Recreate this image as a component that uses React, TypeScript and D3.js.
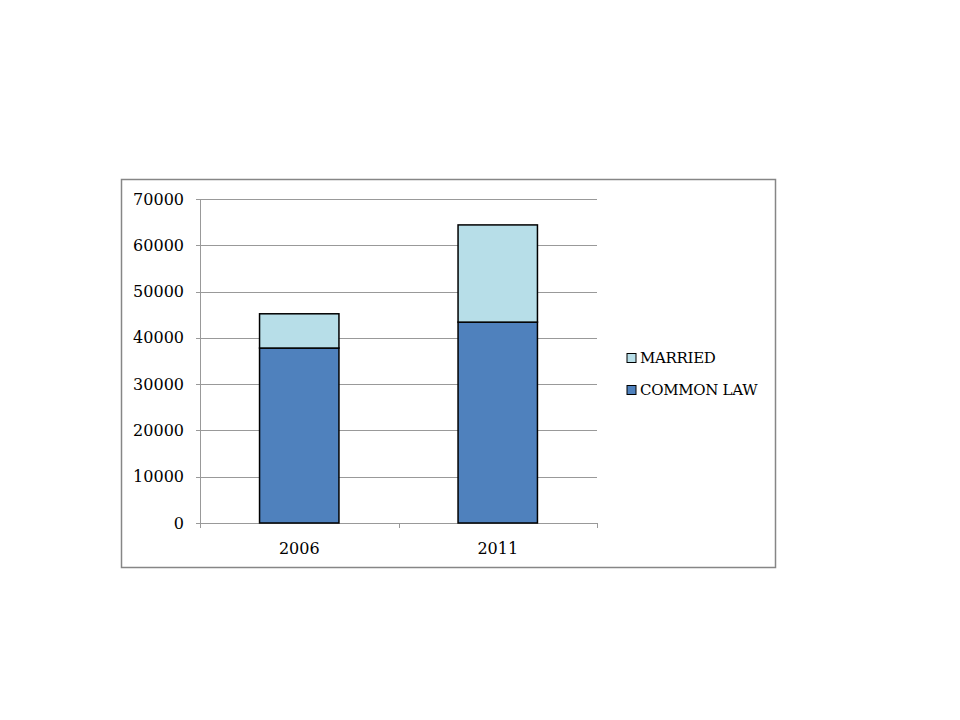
import React from "react";
import * as d3 from "d3";

const categories = ["2006", "2011"];
const commonLaw = [37800, 43400];
const married = [7400, 21000];
const seriesNames = ["COMMON LAW", "MARRIED"];
const seriesColors = ["#4F81BD", "#B7DEE8"];
const yTicks = [0, 10000, 20000, 30000, 40000, 50000, 60000, 70000];

export default function App() {
  const W = 960, H = 720;
  const left = 200, right = 597, top = 199, bottom = 523;
  const xBand = d3.scaleBand<string>().domain(categories).range([left, right]);
  const barW = xBand.bandwidth() * 0.4;
  const y = d3.scaleLinear().domain([0, 70000]).range([bottom, top]);
  const rows = categories.map((c, i) => ({ cat: c, "COMMON LAW": commonLaw[i], MARRIED: married[i] }));
  const stacked = d3.stack<any>().keys(seriesNames)(rows);
  const font = "'DejaVu Serif', serif";
  const legendItems = [
    { name: "MARRIED", color: seriesColors[1] },
    { name: "COMMON LAW", color: seriesColors[0] },
  ];
  return (
    <svg width={W} height={H} style={{ position: "absolute", left: 0, top: 0, background: "#fff" }}>
      <rect x={121.5} y={179.5} width={654} height={388} fill="#fff" stroke="#868686" strokeWidth={1.5} />
      {yTicks.map((t) => (
        <g key={t}>
          <line x1={left - 4} x2={right} y1={Math.round(y(t)) + 0.5} y2={Math.round(y(t)) + 0.5} stroke="#999" strokeWidth={1} />
          <text x={184} y={y(t)} dy="0.35em" textAnchor="end" fontFamily={font} fontSize={16} fill="#000">{t}</text>
        </g>
      ))}
      <line x1={left + 0.5} x2={left + 0.5} y1={top} y2={bottom} stroke="#999" />
      {[...categories.map((c) => xBand(c)!), right].map((v, i) => (
        <line key={i} x1={Math.round(v) + 0.5} x2={Math.round(v) + 0.5} y1={bottom} y2={bottom + 5} stroke="#999" />
      ))}
      {stacked.map((s, si) => (
        <g key={s.key}>
          {s.map((d, i) => (
            <rect key={i} x={xBand(categories[i])! + xBand.bandwidth() / 2 - barW / 2} y={y(d[1])} width={barW} height={y(d[0]) - y(d[1])}
              fill={seriesColors[si]} stroke="#000" strokeWidth={1.5} />
          ))}
        </g>
      ))}
      {categories.map((c) => (
        <text key={c} x={xBand(c)! + xBand.bandwidth() / 2} y={554} textAnchor="middle" fontFamily={font} fontSize={16} fill="#000">{c}</text>
      ))}
      {legendItems.map((l, i) => (
        <g key={l.name} transform={`translate(627, ${358 + i * 32})`}>
          <rect x={0} y={-4.5} width={9} height={9} fill={l.color} stroke="#000" strokeWidth={1} />
          <text x={13} y={0} dy="0.35em" fontFamily={font} fontSize={15} fill="#000" style={{ letterSpacing: "-0.3px" }}>{l.name}</text>
        </g>
      ))}
    </svg>
  );
}
